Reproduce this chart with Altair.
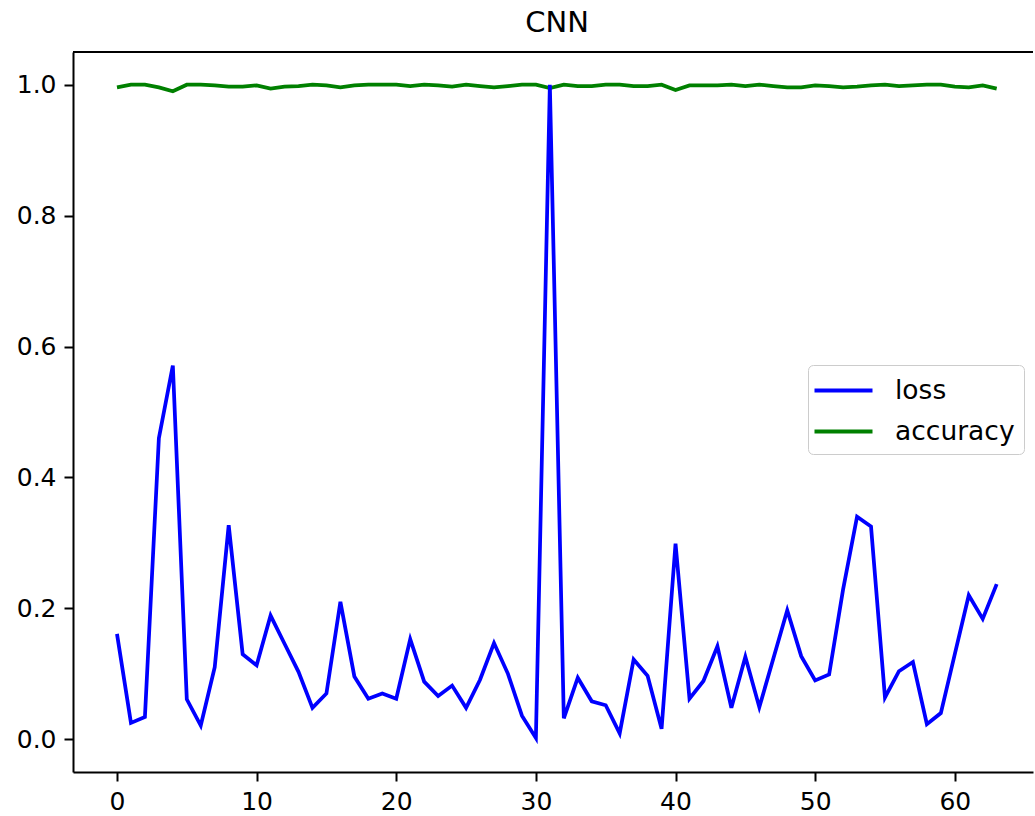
import altair as alt
import pandas as pd

epochs = list(range(64))
loss = [0.161, 0.025, 0.034, 0.460, 0.571, 0.061, 0.021, 0.110, 0.327, 0.130,
        0.113, 0.189, 0.146, 0.103, 0.048, 0.070, 0.210, 0.096, 0.062, 0.070,
        0.062, 0.153, 0.088, 0.066, 0.082, 0.048, 0.091, 0.147, 0.100, 0.036,
        0.002, 1.000, 0.032, 0.094, 0.058, 0.052, 0.009, 0.122, 0.097, 0.016,
        0.299, 0.062, 0.089, 0.142, 0.048, 0.126, 0.049, 0.123, 0.197, 0.127,
        0.090, 0.099, 0.229, 0.340, 0.325, 0.064, 0.104, 0.118, 0.023, 0.040,
        0.130, 0.220, 0.184, 0.237]
accuracy = [0.996, 1.0, 1.0, 0.996, 0.990, 1.0, 1.0, 0.999, 0.997, 0.997,
            0.999, 0.994, 0.997, 0.998, 1.0, 0.999, 0.996, 0.999, 1.0, 1.0,
            1.0, 0.998, 1.0, 0.999, 0.997, 1.0, 0.998, 0.996, 0.998, 1.0,
            1.0, 0.995, 1.0, 0.998, 0.998, 1.0, 1.0, 0.998, 0.998, 1.0,
            0.992, 0.999, 0.999, 0.999, 1.0, 0.998, 1.0, 0.998, 0.996, 0.996,
            0.999, 0.998, 0.996, 0.997, 0.999, 1.0, 0.998, 0.999, 1.0, 1.0,
            0.997, 0.996, 0.999, 0.994]
series = ["loss", "accuracy"]
colors = ["#0000ff", "#008000"]
x_ticks = [0, 10, 20, 30, 40, 50, 60]
y_ticks = [0.0, 0.2, 0.4, 0.6, 0.8, 1.0]

df = pd.concat([
    pd.DataFrame({"epoch": epochs, "value": accuracy, "metric": "accuracy", "ord": 0}),
    pd.DataFrame({"epoch": epochs, "value": loss, "metric": "loss", "ord": 1}),
])

FONT = "DejaVu Sans"

lines = alt.Chart(df).mark_line(strokeWidth=3.75).encode(
    x=alt.X("epoch:Q",
            scale=alt.Scale(domain=[-3.15, 65.6], nice=False, zero=False),
            axis=alt.Axis(values=x_ticks, title=None, grid=False, format="d")),
    y=alt.Y("value:Q",
            scale=alt.Scale(domain=[-0.05, 1.05], nice=False, zero=False),
            axis=alt.Axis(values=y_ticks, title=None, grid=False, format=".1f")),
    color=alt.Color("metric:N",
                    scale=alt.Scale(domain=series, range=colors),
                    legend=alt.Legend(title=None, orient="none", legendX=735, legendY=313,
                                      symbolType="M-2,0L2,0", symbolSize=841,
                                      symbolStrokeWidth=4, symbolOffset=10,
                                      labelFontSize=26.5,
                                      labelFont=FONT, labelColor="black",
                                      labelOffset=35, rowPadding=11, padding=9,
                                      strokeColor="#cccccc", cornerRadius=5,
                                      fillColor="white")),
    order=alt.Order("ord:Q"),
)

top_frame = alt.Chart(alt.Data(values=[{"a": 1}])).mark_rule(
    color="black", strokeWidth=2
).encode(x=alt.value(0), x2=alt.value(960), y=alt.value(0))

chart = alt.layer(lines, top_frame).properties(
    width=960, height=720,
    padding={"left": 73, "top": 52, "right": 2, "bottom": 44},
    autosize="none",
    title=alt.TitleParams("CNN", fontSize=29, font=FONT, fontWeight="normal",
                          anchor="middle", offset=-10, baseline="alphabetic",
                          color="black", dx=4),
).configure_view(strokeWidth=0).configure_axis(
    labelFont=FONT, labelFontSize=25, labelColor="black",
    tickColor="black", tickSize=9, tickWidth=2,
    domainColor="black", domainWidth=2, labelPadding=8,
)

chart.save("out.html", embed_options={"renderer": "svg", "actions": False})
